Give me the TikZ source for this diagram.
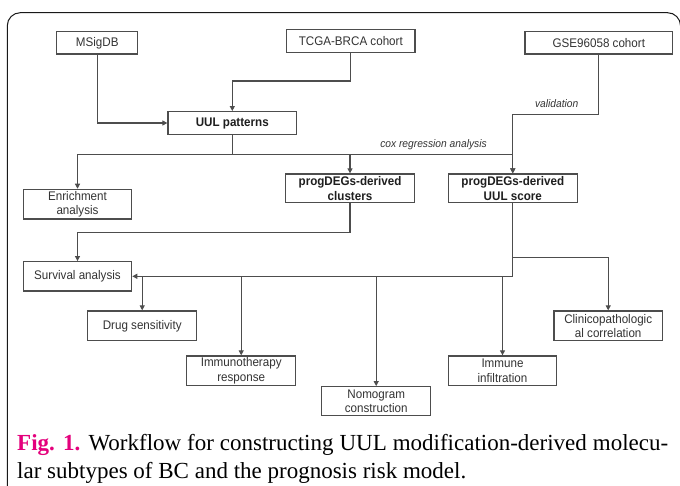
\documentclass[tikz,border=0pt]{standalone}
\usepackage{fontspec}
\setmainfont{Liberation Serif}
\newfontfamily\boxfont[FakeStretch=0.93]{Liberation Sans}
\usetikzlibrary{arrows.meta}
\definecolor{linegray}{HTML}{4D4D4D}
\definecolor{figmag}{HTML}{E4007C}
\definecolor{txtgray}{HTML}{333333}
\tikzset{
  flowbox/.style={draw=linegray, line width=1.2pt, fill=white, inner sep=0pt, align=center,
    text=txtgray, font=\boxfont\fontsize{12.5}{14.5}\selectfont},
  boldbox/.style={flowbox, font=\boxfont\bfseries\fontsize{12.5}{14.5}\selectfont, text=black!88},
  conn/.style={draw=linegray, line width=1.1pt},
  arr/.style={conn, -{Triangle[length=5pt,width=5pt]}},
  lbl/.style={font=\boxfont\itshape\fontsize{11}{13}\selectfont, text=txtgray, inner sep=0pt},
  framestyle/.style={draw=black!90, line width=1pt, rounded corners=13pt},
}
\begin{document}
\begin{tikzpicture}[x=1pt,y=-1pt]
\clip (0,0) rectangle (680,486);
\fill[white] (0,0) rectangle (680,486);
\draw[framestyle] (7.3,520) -- (7.3,12.7) -- (680.5,12.7) -- (680.5,520);

% boxes
\node[flowbox, minimum width=81pt, minimum height=22.3pt] (msig) at (97.2,42.9) {MSigDB};
\node[flowbox, minimum width=128.3pt, minimum height=23pt] (tcga) at (350.8,40.8) {TCGA-BRCA cohort};
\node[flowbox, minimum width=147.7pt, minimum height=22.3pt] (gse) at (598.8,42.9) {GSE96058 cohort};
\node[boldbox, minimum width=128.7pt, minimum height=22.7pt] (uul) at (232.3,123) {UUL patterns};
\node[flowbox, minimum width=108.4pt, minimum height=29.7pt] (enr) at (77.5,204.2) {Enrichment\\analysis};
\node[boldbox, minimum width=128.6pt, minimum height=28.7pt] (clu) at (350,188.3) {progDEGs-derived\\clusters};
\node[boldbox, minimum width=129pt, minimum height=28.7pt] (score) at (512.8,188.3) {progDEGs-derived\\UUL score};
\node[flowbox, minimum width=108.4pt, minimum height=29.3pt] (surv) at (77.5,276.3) {Survival analysis};
\node[flowbox, minimum width=109pt, minimum height=29.7pt] (drug) at (142.2,325.8) {Drug sensitivity};
\node[flowbox, minimum width=109pt, minimum height=29.7pt] (immt) at (241.2,370.8) {Immunotherapy\\response};
\node[flowbox, minimum width=109pt, minimum height=29pt] (nomo) at (376.2,401.2) {Nomogram\\construction};
\node[flowbox, minimum width=108.4pt, minimum height=29.7pt] (immi) at (502.5,370.8) {Immune\\infiltration};
\node[flowbox, minimum width=108.3pt, minimum height=29.7pt] (clin) at (608.2,325.8) {Clinicopathologic\\al correlation};

% junction coordinates
\coordinate (tj) at (232.3,81);
\coordinate (gj) at (512.8,114.3);
\coordinate (sp) at (232.3,154.3);
\coordinate (cj) at (77.5,232.3);
\coordinate (sj) at (512.8,257.3);

% connectors
\draw[arr] (msig.south) |- (uul.west);
\draw[conn] (tcga.south) |- (tj);
\draw[arr] (tj) -- (uul.north);
\draw[conn] (uul.south) -- (sp);
\draw[arr] (sp) -| (enr.north);
\draw[arr] (sp) -| (clu.north);
\draw[arr] (sp) -| (score.north);
\draw[conn] (gse.south) |- (gj);
\draw[arr] (gj) -- (score.north);
\draw[conn] (clu.south) |- (cj);
\draw[arr] (cj) -- (surv.north);
\draw[arr] (score.south) |- (surv.east);
\draw[arr] (drug.north |- surv.east) -- (drug.north);
\draw[arr] (immt.north |- surv.east) -- (immt.north);
\draw[arr] (nomo.north |- surv.east) -- (nomo.north);
\draw[arr] (immi.north |- surv.east) -- (immi.north);
\draw[arr] (sj) -| (clin.north);

% labels
\node[lbl] (val) at (556.7,103.3) {validation};
\node[lbl] (cox) at (433.5,145) {cox regression analysis};

% caption
\node[anchor=base west, inner sep=0pt, font=\fontsize{23}{28}\selectfont] (cap1) at (17,450)
  {\makebox[651pt][s]{\textcolor{figmag}{\textbf{Fig. 1.}} Workflow for constructing UUL modification-derived molecu-}};
\node[anchor=base west, inner sep=0pt, font=\fontsize{23}{28}\selectfont] (cap2) at (17,478)
  {lar subtypes of BC and the prognosis risk model.};
\end{tikzpicture}
\end{document}
